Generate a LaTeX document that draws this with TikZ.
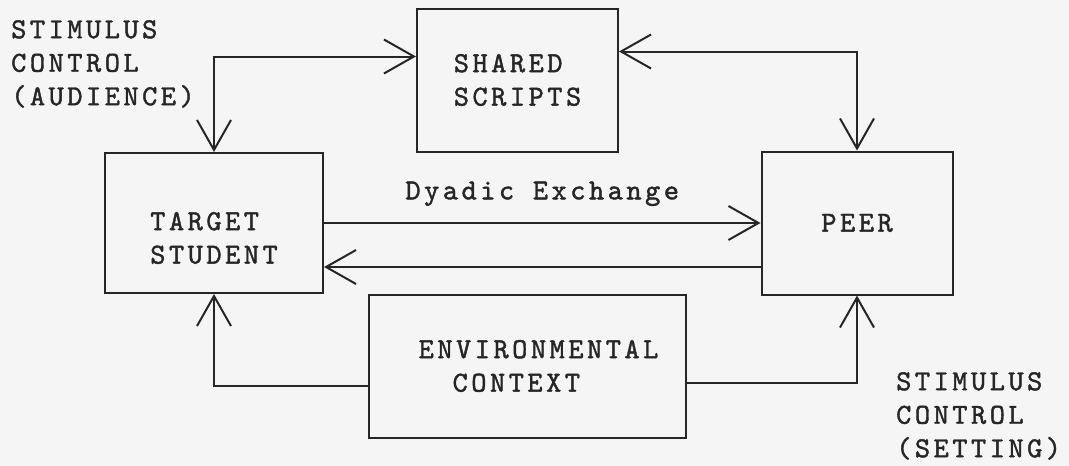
\documentclass[tikz,border=0pt]{standalone}
\usepackage{fontspec}
\usetikzlibrary{arrows.meta, positioning}
\newfontfamily\typewriter{lmmono10-regular.otf}[LetterSpace=12, FakeBold=1.4]
\newcommand{\diagfont}{\typewriter\fontsize{29}{33.5}\selectfont}
\definecolor{paper}{gray}{0.96}
\definecolor{ink}{gray}{0.15}
\tikzstyle{block} = [rectangle, minimum height=143pt, align=left, draw=ink, line width=2pt, font=\diagfont, text=ink]
\tikzstyle{note} = [align=left, inner sep=0pt, font=\diagfont, text=ink]
\tikzstyle{arrow} = [line width=2pt, draw=ink, ->, >={Straight Barb[length=30pt, width=34pt]}]
\tikzstyle{twoway} = [arrow, <->]
\begin{document}
\begin{tikzpicture}[x=1pt, y=1pt, node distance=143pt]
  \useasboundingbox (0,0) rectangle (1069,-466);
  \fill [paper] (0,0) rectangle (1069,-466);

  \node (student) [block, minimum width=218pt, minimum height=140pt,
    label={[note, yshift=-15pt]center:TARGET\\STUDENT}] at (214,-223) {};
  \node (shared) [block, above of=student, xshift=303.5pt, minimum width=201pt] {SHARED\\SCRIPTS};
  \node (peer) [block, right of=student, xshift=500pt, minimum width=191pt] {PEER};
  \node (env) [block, below of=student, xshift=313.5pt, minimum width=317pt,
    label={[note, xshift=11pt]center:ENVIRONMENTAL\\\phantom{EN}CONTEXT}] {};

  \node (audience) [note, anchor=north west] at (11,-20) {STIMULUS\\CONTROL\\(AUDIENCE)};
  \node (setting) [note, anchor=north west] at (896,-372) {STIMULUS\\CONTROL\\(SETTING)};

  % audience and setting links
  \draw [twoway] (student.north) |- ([yshift=23.5pt]shared.west);
  \draw [twoway] ([yshift=28.5pt]shared.east) -| (peer.north);
  \draw [arrow] ([yshift=-19.5pt]env.west) -| (student.south);
  \draw [arrow] ([yshift=-16.5pt]env.east) -| (peer.south);

  % dyadic exchange
  \draw [arrow] (student.east) -- node[note, above=16pt] {Dyadic Exchange} (student.east -| peer.west);
  \coordinate (back) at ([yshift=-44pt]peer.west);
  \draw [arrow] (back) -- (back -| student.east);

\end{tikzpicture}
\end{document}
